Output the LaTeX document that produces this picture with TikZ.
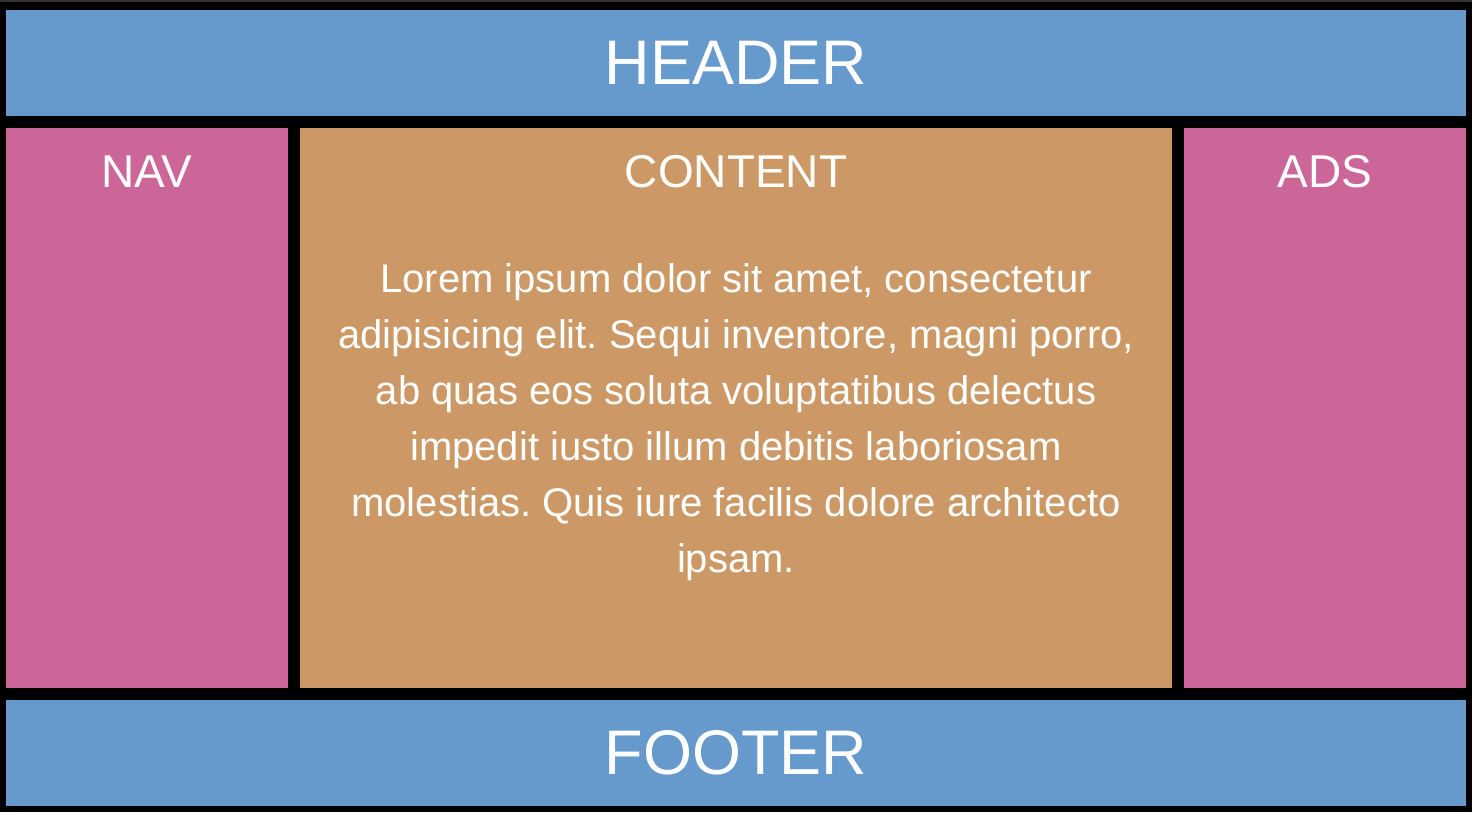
\documentclass[tikz,border=0pt]{standalone}
\usepackage{fontspec}
\setmainfont{Liberation Sans}
\frenchspacing
\definecolor{hdrblue}{HTML}{6699CC}
\definecolor{sidepink}{HTML}{CC6699}
\definecolor{maintan}{HTML}{CC9966}
\definecolor{topline}{HTML}{333333}
\tikzset{
  panel/.style={draw=none, inner sep=0pt, outer sep=0pt, anchor=north west},
  bigtitle/.style={text=white, inner sep=0pt, anchor=base, font=\fontsize{63}{63}\selectfont},
  coltitle/.style={text=white, inner sep=0pt, anchor=base, font=\fontsize{46}{46}\selectfont},
  bodytext/.style={text=white, inner sep=0pt, anchor=north, align=center, font=\fontsize{40}{56}\selectfont}
}
\begin{document}
\begin{tikzpicture}[x=1pt, y=-1pt]
  % page background
  \fill[black] (0,0) rectangle (1472,812);
  \fill[topline] (0,0) rectangle (1472,2);
  \useasboundingbox (0,0) rectangle (1472,812);

  % layout panels
  \node[panel, fill=hdrblue, minimum width=1460pt, minimum height=106pt] (header) at (6,10) {};
  \node[panel, fill=sidepink, minimum width=282pt, minimum height=560pt] (nav) at (6,128) {};
  \node[panel, fill=maintan, minimum width=872pt, minimum height=560pt] (content) at (300,128) {};
  \node[panel, fill=sidepink, minimum width=282pt, minimum height=560pt] (ads) at (1184,128) {};
  \node[panel, fill=hdrblue, minimum width=1460pt, minimum height=106pt] (footer) at (6,700) {};

  % labels
  \node[bigtitle] (headerlabel) at (736,84) {HEADER};
  \node[coltitle] (navlabel) at (147,187) {NAV};
  \node[coltitle] (contentlabel) at (736,187) {CONTENT};
  \node[coltitle] (adslabel) at (1325,187) {ADS};
  \node[bigtitle] (footerlabel) at (736,774) {FOOTER};

  % body copy
  \node[bodytext] (body) at (736,263) {Lorem ipsum dolor sit amet, consectetur\\
    adipisicing elit. Sequi inventore, magni porro,\\
    ab quas eos soluta voluptatibus delectus\\
    impedit iusto illum debitis laboriosam\\
    molestias. Quis iure facilis dolore architecto\\
    ipsam.};
\end{tikzpicture}
\end{document}
